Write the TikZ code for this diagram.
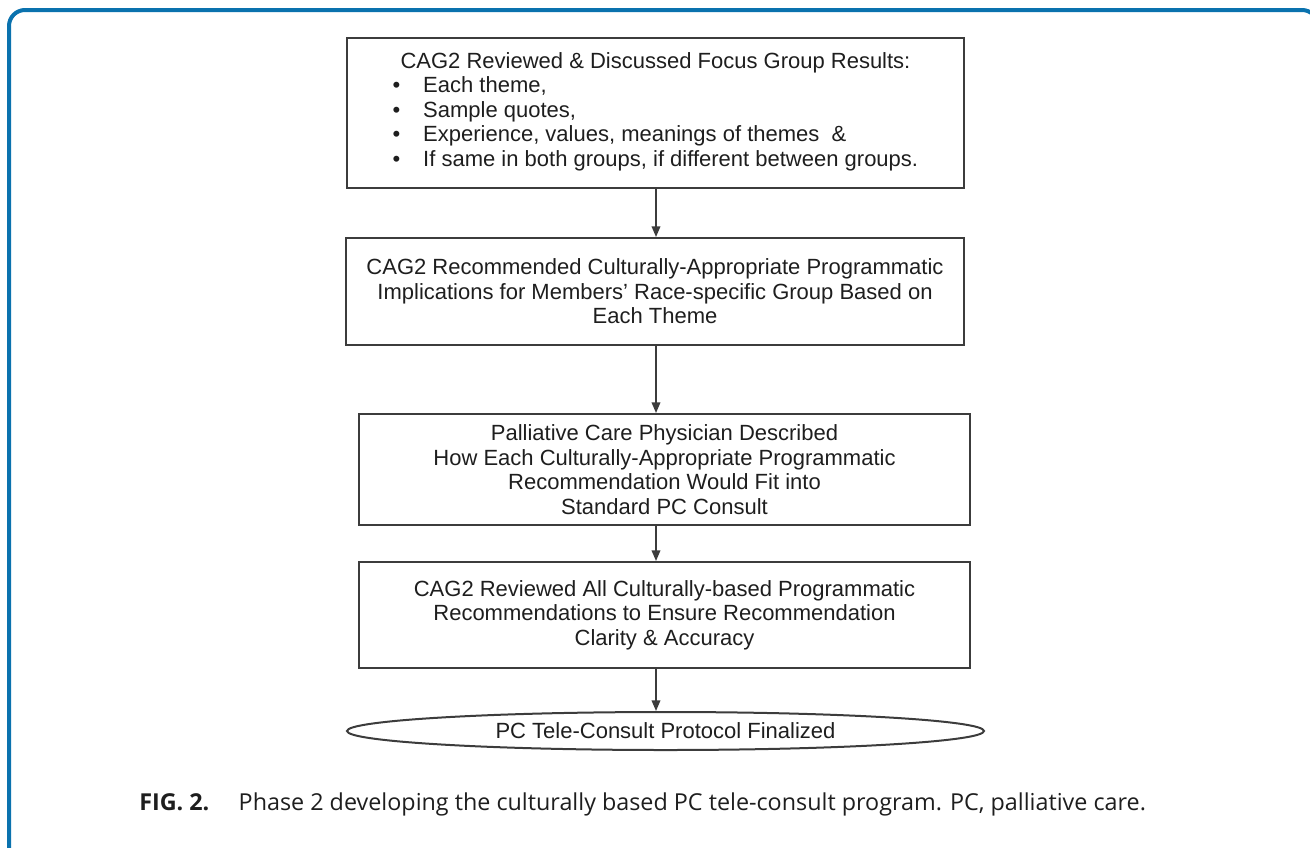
\documentclass[tikz,border=0pt]{standalone}
\usepackage{fontspec}
\setmainfont{Liberation Sans}
\newfontfamily\capfont{Open Sans}
\usetikzlibrary{shapes.geometric,arrows.meta}
\definecolor{frameblue}{HTML}{0A72AE}
\definecolor{boxgray}{HTML}{3C3C3C}
\definecolor{inkgray}{HTML}{1E1E1E}
\begin{document}
\begin{tikzpicture}[x=0.75pt,y=-0.75pt,
		stepbox/.style={draw=boxgray,line width=1.5pt,text=inkgray,align=center,inner sep=0pt,
			font=\fontsize{16.5pt}{18.4pt}\selectfont},
		endcap/.style={ellipse,draw=boxgray,line width=1.5pt,text=inkgray,inner sep=0pt,
			font=\fontsize{16.5pt}{18.4pt}\selectfont},
		flow/.style={draw=boxgray,line width=1.1pt,-{Triangle[length=8pt,width=6.5pt]}}]
		\useasboundingbox (0,0) rectangle (1310,847);
		\begin{scope}
			\clip (0,0) rectangle (1310,847);
			\draw[frameblue,line width=3pt,rounded corners=12pt] (9,10) rectangle (1318,900);
		\end{scope}
		\node[stepbox,minimum width=462.75pt,minimum height=112.5pt] (review) at (655.5,112.5)
			{\begin{tabular}{@{}l@{}}
				\multicolumn{1}{c}{CAG2 Reviewed \& Discussed Focus Group Results:}\\
				\makebox[23pt][l]{\textbullet}Each theme,\\
				\makebox[23pt][l]{\textbullet}Sample quotes,\\
				\makebox[23pt][l]{\textbullet}Experience, values, meanings of themes~~\&\\
				\makebox[23pt][l]{\textbullet}If same in both groups, if different between groups.
			\end{tabular}};
		\node[stepbox,minimum width=463.5pt,minimum height=80.25pt] (recommend) at (655,291.5)
			{CAG2 Recommended Culturally-Appropriate Programmatic\\
			Implications for Members' Race-specific Group Based on\\
			Each Theme};
		\node[stepbox,minimum width=458.25pt,minimum height=83.25pt] (physician) at (664.5,469.5)
			{Palliative Care Physician Described\\
			How Each Culturally-Appropriate Programmatic\\
			Recommendation Would Fit into\\
			Standard PC Consult};
		\node[stepbox,minimum width=458.25pt,minimum height=79.5pt] (clarity) at (664.5,615)
			{CAG2 Reviewed All Culturally-based Programmatic\\
			Recommendations to Ensure Recommendation\\
			Clarity \& Accuracy};
		\node[endcap,minimum width=477.75pt,minimum height=28.5pt] (final) at (665.5,731)
			{PC Tele-Consult Protocol Finalized};
		\coordinate (spine) at (656,0);
		\draw[flow] (review.south -| spine) -- (recommend.north -| spine);
		\draw[flow] (recommend.south -| spine) -- (physician.north -| spine);
		\draw[flow] (physician.south -| spine) -- (clarity.north -| spine);
		\draw[flow] (clarity.south -| spine) -- (final.north -| spine);
		\node[anchor=base west,inner sep=0pt,text=inkgray,font=\capfont\fontsize{17.5pt}{20pt}\selectfont] (caption) at (139,810)
			{\textbf{FIG. 2.}\hspace{22pt}Phase 2 developing the culturally based PC tele-consult program. PC, palliative care.};
	\end{tikzpicture}
\end{document}
